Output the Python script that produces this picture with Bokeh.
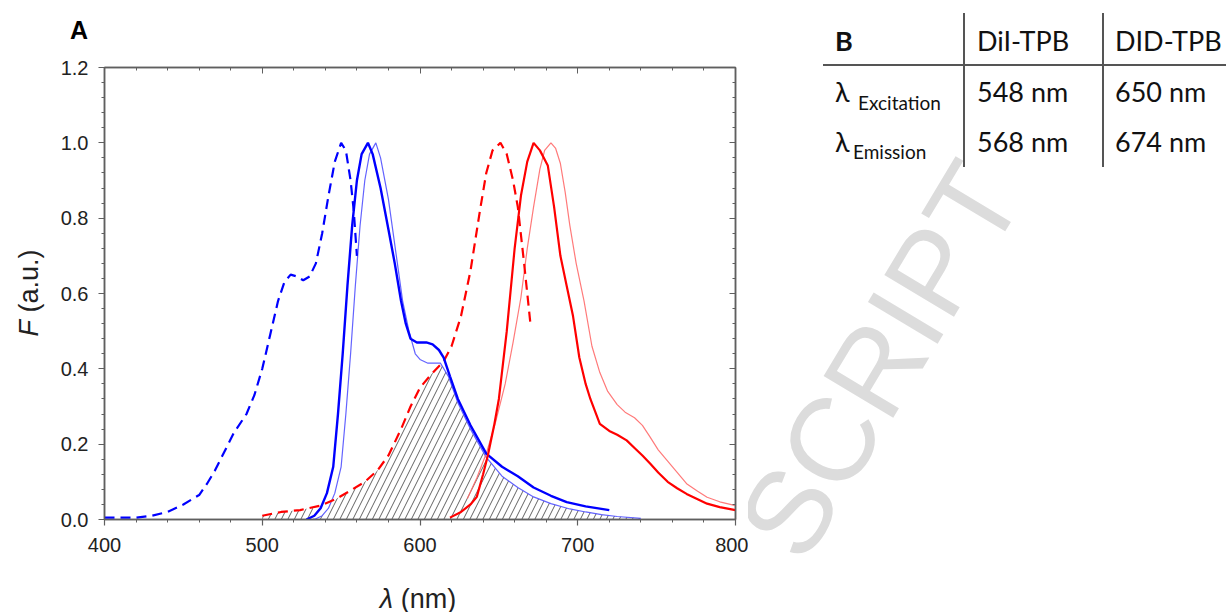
import numpy as np
from bokeh.plotting import figure
from bokeh.models import Range1d, LinearAxis, FixedTicker, PrintfTickFormatter, Div
from bokeh.layouts import row, column
from bokeh.embed import file_html
from bokeh.resources import INLINE

# ---------------- data ----------------
# DiI excitation (blue dashed)
dii_ex_wl = [400, 420, 430, 440, 450, 460, 465, 470, 476, 482, 490, 495, 500, 505, 510, 514, 518,
             522, 526, 530, 534, 538, 542, 546, 550, 553, 556, 558, 560]
dii_ex_f = [0.005, 0.005, 0.01, 0.02, 0.04, 0.065, 0.095, 0.13, 0.18, 0.23, 0.28, 0.33, 0.40, 0.49,
            0.58, 0.63, 0.65, 0.645, 0.635, 0.645, 0.68, 0.76, 0.86, 0.95, 1.0, 0.98, 0.90, 0.82, 0.70]

# DiI emission 1 (blue thick)
dii_em1_wl = [528, 533, 537, 541, 545, 548, 551, 554, 557, 560, 563, 567, 570, 575, 580, 584, 588,
              591, 594, 598, 604, 608, 612, 615, 619, 624, 632, 642, 652, 662, 672, 683, 693, 705, 720]
dii_em1_f = [0.0, 0.01, 0.03, 0.07, 0.14, 0.28, 0.44, 0.62, 0.78, 0.90, 0.97, 1.0, 0.97, 0.88, 0.77,
             0.68, 0.58, 0.52, 0.48, 0.47, 0.47, 0.465, 0.45, 0.43, 0.38, 0.32, 0.25, 0.175, 0.14,
             0.115, 0.085, 0.063, 0.046, 0.035, 0.025]

# DiI emission 2 (blue thin)
dii_em2_wl = [533, 538, 542, 546, 550, 553, 556, 559, 562, 565, 568, 572, 575, 580, 585, 589, 593,
              597, 600, 605, 613, 618, 624, 632, 642, 652, 662, 672, 683, 695, 705, 715, 725, 740]
dii_em2_f = [0.0, 0.01, 0.03, 0.07, 0.14, 0.28, 0.44, 0.62, 0.78, 0.90, 0.97, 1.0, 0.96, 0.85, 0.70,
             0.58, 0.50, 0.44, 0.425, 0.415, 0.415, 0.38, 0.31, 0.24, 0.165, 0.115, 0.085, 0.06,
             0.042, 0.028, 0.02, 0.013, 0.008, 0.003]

# DiD excitation (red dashed)
did_ex_wl = [500, 512, 524, 537, 547, 556, 565, 573, 580, 588, 594, 600, 607, 615, 620, 626, 632,
             638, 642, 646, 651, 655, 659, 662, 666, 670]
did_ex_f = [0.01, 0.02, 0.025, 0.037, 0.055, 0.077, 0.10, 0.13, 0.17, 0.24, 0.30, 0.35, 0.385, 0.42,
            0.46, 0.54, 0.66, 0.82, 0.92, 0.98, 1.0, 0.97, 0.90, 0.83, 0.68, 0.52]

# DiD emission 1 (red thick)
did_em1_wl = [619, 626, 632, 636, 640, 643, 647, 650, 655, 660, 664, 668, 672, 676, 681, 685, 689,
              693, 697, 701, 705, 708, 714, 720, 725, 731, 736, 741, 746, 751, 757, 763, 769, 776,
              782, 790, 800]
did_em1_f = [0.005, 0.02, 0.04, 0.06, 0.12, 0.17, 0.25, 0.32, 0.50, 0.72, 0.86, 0.95, 1.0, 0.98,
             0.94, 0.83, 0.70, 0.62, 0.54, 0.43, 0.36, 0.32, 0.254, 0.235, 0.225, 0.21, 0.19, 0.17,
             0.148, 0.125, 0.10, 0.083, 0.068, 0.054, 0.042, 0.033, 0.025]

# DiD emission 2 (red thin)
did_em2_wl = [630, 636, 642, 648, 654, 659, 664, 668, 672, 676, 679, 683, 686, 689, 692, 695, 699,
              704, 709, 714, 719, 725, 730, 736, 741, 746, 751, 757, 763, 769, 776, 782, 790, 800]
did_em2_f = [0.055, 0.11, 0.175, 0.26, 0.36, 0.47, 0.59, 0.72, 0.83, 0.93, 0.98, 1.0, 0.985, 0.945,
             0.87, 0.78, 0.68, 0.58, 0.46, 0.39, 0.34, 0.305, 0.285, 0.27, 0.25, 0.218, 0.185,
             0.155, 0.125, 0.095, 0.075, 0.059, 0.047, 0.037]

# axis ticks
x_ticks = [400, 500, 600, 700, 800]
y_ticks = [0.0, 0.2, 0.4, 0.6, 0.8, 1.0, 1.2]

# Table B
table_cols = ["DiI-TPB", "DID-TPB"]
table_excitation = ["548 nm", "650 nm"]
table_emission = ["568 nm", "674 nm"]

# ---------------- styling / layout sizes ----------------
AX = "#5f5f5f"
TXT = "#222222"
BLUE = "#0000ff"
RED = "#ff0000"
TOP_H = 50          # strip holding panel letter "A"
ROW_H = 575         # height of chart row (incl. TOP_H)
PLOT_H = ROW_H - TOP_H

x_minor = [v for v in range(400, 801, 20) if v % 100]
y_minor = [round(v * 0.04, 2) for v in range(0, 31) if v % 5]

p = figure(width=698, height=PLOT_H, x_range=Range1d(400, 800), y_range=Range1d(0, 1.2),
           output_backend="svg", toolbar_location=None, title=None,
           min_border_left=54, min_border_right=13, min_border_top=17, min_border_bottom=56)
p.grid.visible = False
p.outline_line_color = AX
p.outline_line_width = 1.5
p.background_fill_color = "white"
p.border_fill_color = "white"

p.xaxis.ticker = FixedTicker(ticks=x_ticks, minor_ticks=x_minor)
p.yaxis.ticker = FixedTicker(ticks=y_ticks, minor_ticks=y_minor)
p.yaxis.formatter = PrintfTickFormatter(format="%.1f")
for ax in (p.xaxis[0], p.yaxis[0]):
    ax.axis_line_color = AX
    ax.axis_line_width = 1.5
    ax.major_tick_line_color = AX
    ax.minor_tick_line_color = AX
    ax.major_tick_line_width = 1.2
    ax.major_tick_out = 6
    ax.major_tick_in = 0
    ax.minor_tick_out = 3
    ax.minor_tick_in = 0
    ax.major_label_text_font = "Liberation Sans"
    ax.major_label_text_font_size = "20px"
    ax.major_label_text_color = TXT
p.yaxis.major_label_standoff = 10
p.xaxis.major_label_standoff = 12

top = LinearAxis(ticker=FixedTicker(ticks=x_ticks, minor_ticks=x_minor),
                 major_label_text_font_size="0px", major_label_standoff=0,
                 major_tick_in=6, major_tick_out=0, minor_tick_in=3, minor_tick_out=0,
                 axis_line_color=AX, axis_line_width=1.5,
                 major_tick_line_color=AX, minor_tick_line_color=AX)
right = LinearAxis(ticker=FixedTicker(ticks=y_ticks, minor_ticks=y_minor),
                   major_label_text_font_size="0px", major_label_standoff=0,
                   major_tick_in=6, major_tick_out=0, minor_tick_in=3, minor_tick_out=0,
                   axis_line_color=AX, axis_line_width=1.5,
                   major_tick_line_color=AX, minor_tick_line_color=AX)
p.add_layout(top, "above")
p.add_layout(right, "right")

# hatched overlap: DiD excitation vs DiI emission (thin)
grid = np.arange(500, 741, 1.0)
ex_i = np.interp(grid, did_ex_wl, did_ex_f, right=5.0)
em_i = np.interp(grid, dii_em2_wl, dii_em2_f, left=5.0)
overlap = np.minimum(ex_i, em_i)
p.varea(x=grid, y1=np.zeros_like(grid), y2=overlap, fill_color=None,
        hatch_pattern="/", hatch_color="#3a3a3a", hatch_scale=13, hatch_weight=0.8)

# curves
p.line(dii_em2_wl, dii_em2_f, line_color="#4848ff", line_width=1.2, line_alpha=0.85)
p.line(did_em2_wl, did_em2_f, line_color="#ff6b6b", line_width=1.2, line_alpha=0.9)
p.line(dii_ex_wl, dii_ex_f, line_color=BLUE, line_width=2.2, line_dash="10 6")
p.line(did_ex_wl, did_ex_f, line_color=RED, line_width=2.2, line_dash="10 6")
p.line(dii_em1_wl, dii_em1_f, line_color=BLUE, line_width=2.4)
p.line(did_em1_wl, did_em1_f, line_color=RED, line_width=2.2)

# ---------------- text strips (HTML, allows mixed italic) ----------------
LAB = "font-family:'Liberation Sans',Arial,sans-serif;font-size:27px;line-height:1;color:#222;white-space:nowrap;"

topA = Div(text=('<div style="position:relative;width:748px;height:%dpx;overflow:hidden;">'
                 '<span style="position:absolute;left:70px;top:17.8px;font-family:\'Liberation Sans\',Arial,sans-serif;'
                 'font-size:25px;line-height:1;font-weight:bold;color:#000;">A</span></div>') % TOP_H,
           width=748, height=TOP_H, margin=(0, 0, 0, 0))

ylab_html = ('<div style="position:relative;width:50px;height:%dpx;overflow:hidden;">'
             '<span style="position:absolute;left:29px;top:%dpx;%s'
             'transform:translate(-50%%,-50%%) rotate(-90deg);"><i>F</i> (a.u.)</span></div>') % (PLOT_H, 293 - TOP_H, LAB)
ylab = Div(text=ylab_html, width=50, height=PLOT_H, margin=(0, 0, 0, 0))

xlab_html = ('<div style="position:relative;width:1226px;height:%dpx;overflow:hidden;">'
             '<span style="position:absolute;left:418px;top:%dpx;%s'
             'transform:translate(-50%%,-50%%);"><i>λ</i> (nm)</span></div>') % (612 - ROW_H, 599 - ROW_H, LAB)
xlab = Div(text=xlab_html, width=1226, height=612 - ROW_H, margin=(0, 0, 0, 0))

# ---------------- table panel (HTML) ----------------
def span(left, top, text, size, weight="normal"):
    return (f'<span style="position:absolute;left:{left}px;top:{top}px;font-size:{size}px;'
            f'line-height:1;font-weight:{weight};white-space:nowrap;color:#111;">{text}</span>')

def top_for(center, size):
    return round(center - 0.527 * size, 1)

parts = []
parts.append('<span style="position:absolute;left:132px;top:360px;font-family:\'Liberation Sans\';'
             'font-size:118px;line-height:1;color:#dcdcdc;white-space:nowrap;'
             'transform:translate(-50%,-50%) rotate(-59deg);">SCRIPT</span>')
parts.append('<div style="position:absolute;left:75px;top:64px;width:403px;height:1.5px;background:#555;"></div>')
parts.append('<div style="position:absolute;left:215px;top:13px;width:1.5px;height:154px;background:#555;"></div>')
parts.append('<div style="position:absolute;left:354px;top:13px;width:1.5px;height:154px;background:#555;"></div>')
parts.append(span(87, top_for(41, 27), "B", 27, "bold"))
col_left = [229, 367]
for i in range(2):
    parts.append(span(col_left[i], top_for(41, 27), table_cols[i], 27))
    parts.append(span(col_left[i], top_for(92, 27), table_excitation[i], 27))
    parts.append(span(col_left[i], top_for(142.5, 27), table_emission[i], 27))
parts.append(span(87, top_for(92, 27), "λ", 27))
parts.append(span(110, top_for(102.5, 19), "Excitation", 19))
parts.append(span(87, top_for(142.5, 27), "λ", 27))
parts.append(span(105, top_for(151.7, 19), "Emission", 19))

html = ('<div style="position:relative;width:478px;height:%dpx;overflow:hidden;'
        'font-family:Lato, sans-serif;background:white;">' % ROW_H + "".join(parts) + '</div>')
table = Div(text=html, width=478, height=ROW_H, margin=(0, 0, 0, 0))

left_block = column(topA, row(ylab, p, spacing=0), spacing=0)
layout = column(row(left_block, table, spacing=0), xlab, spacing=0)
open("out.html", "w").write(file_html(layout, INLINE))
